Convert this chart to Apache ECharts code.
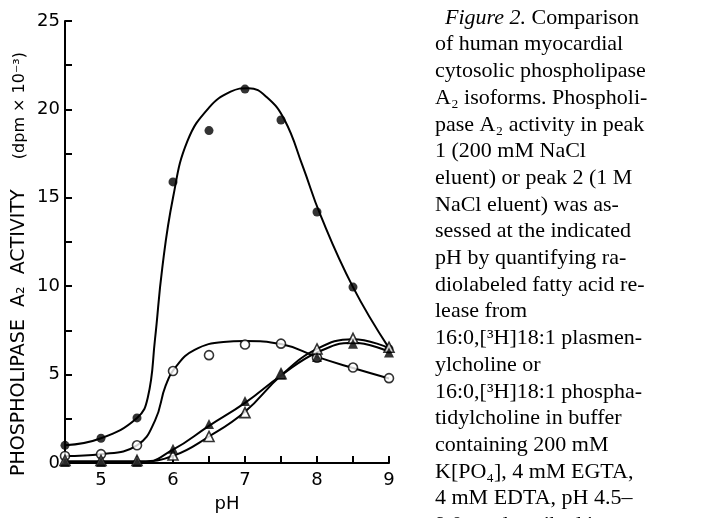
<!DOCTYPE html>
<html>
<head>
<meta charset="utf-8">
<script src="https://cdn.jsdelivr.net/npm/echarts/dist/echarts.min.js"></script>
<style>
html,body{margin:0;padding:0;background:#fff;}
#chart{width:720px;height:518px;}
</style>
</head>
<body>
<div id="chart"></div>
<script>
// ---- data ----
const phValues = [4.5, 5, 5.5, 6, 6.5, 7, 7.5, 8, 8.5, 9];
const filledCircles = [1.0, 1.4, 2.55, 15.9, 18.8, 21.15, 19.4, 14.2, 9.95, 6.45];
const openCircles = [0.4, 0.5, 1.0, 5.2, 6.1, 6.7, 6.75, 5.95, 5.4, 4.8];
const filledTriangles = [0.05, 0.05, 0.05, 0.8, 2.2, 3.5, 5.0, 6.0, 6.75, 6.25];
const openTriangles = [0.15, 0.15, 0.15, 0.45, 1.5, 2.85, 5.05, 6.45, 7.05, 6.55];

// hand-drawn fitted curves as [pH, value]
const curveFilledCircles = [[4.5,1.0],[5.0,1.4],[5.5,2.55],[5.65,3.7],[5.75,7.0],[5.85,11],[6.0,15.0],[6.2,18.2],[6.5,20.1],[6.8,21.0],[7.05,21.2],[7.3,20.7],[7.55,19.4],[7.8,16.8],[8.05,14.0],[8.5,9.95],[9.0,6.5]];
const curveOpenCircles = [[4.5,0.4],[5.0,0.5],[5.5,1.0],[5.75,2.4],[5.9,4.4],[6.05,5.5],[6.3,6.4],[6.7,6.85],[7.0,6.9],[7.5,6.73],[8.0,6.0],[8.5,5.37],[9.0,4.78]];
const curveFilledTriangles = [[4.5,0],[5.0,0],[5.55,0],[6.0,0.75],[6.5,2.1],[7.0,3.4],[7.5,4.95],[8.0,6.25],[8.5,6.8],[9.0,6.3]];
const curveOpenTriangles = [[4.5,0.1],[5.0,0.1],[5.55,0.1],[6.0,0.4],[6.5,1.5],[7.0,2.9],[7.5,4.95],[8.0,6.45],[8.5,7.0],[9.0,6.5]];

const yTicks = [0, 5, 10, 15, 20, 25];
const xTicks = [5, 6, 7, 8, 9];

const captionLines = [
  '{i|Figure 2.} Comparison',
  'of human myocardial',
  'cytosolic phospholipase',
  'A₂ isoforms. Phospholi-',
  'pase A₂ activity in peak',
  '1 (200 mM NaCl',
  'eluent) or peak 2 (1 M',
  'NaCl eluent) was as-',
  'sessed at the indicated',
  'pH by quantifying ra-',
  'diolabeled fatty acid re-',
  'lease from',
  '16:0,[³H]18:1 plasmen-',
  'ylcholine or',
  '16:0,[³H]18:1 phospha-',
  'tidylcholine in buffer',
  'containing 200 mM',
  'K[PO₄], 4 mM EGTA,',
  '4 mM EDTA, pH 4.5–',
  '9.0, as described in'
];

// ---- chart ----
const chart = echarts.init(document.getElementById('chart'), null, {renderer: 'canvas'});
const axisFont = 'DejaVu Sans';
const zip = arr => phValues.map((x, i) => [x, arr[i]]);

const lineStyle = {color: '#000', width: 2};
function curve(name, data) {
  return {
    name: name, type: 'line', data: data, smooth: 0.45,
    showSymbol: false, symbol: 'none', lineStyle: lineStyle, z: 2, silent: true
  };
}
function points(name, data, symbol, size, filled) {
  return {
    name: name, type: 'scatter', data: zip(data), symbol: symbol, symbolSize: size, z: 5,
    itemStyle: {color: filled ? '#000' : '#fff', borderColor: '#000', borderWidth: filled ? 0 : 1.6}
  };
}

const graphics = captionLines.map((t, i) => ({
  type: 'text',
  x: i === 0 ? 445 : 435,
  y: 18 + i * 26.7,
  style: {
    text: t,
    font: '22px "Liberation Serif"',
    fill: '#000',
    textVerticalAlign: 'middle',
    rich: {i: {fontStyle: 'italic', fontFamily: 'Liberation Serif', fontSize: 22}}
  }
}));

chart.setOption({
  animation: false,
  backgroundColor: '#fff',
  grid: {left: 65, top: 21, width: 324, height: 448, containLabel: false},
  xAxis: {
    type: 'value', min: 4.5, max: 9, interval: 0.5,
    name: 'pH', nameLocation: 'middle', nameGap: 32,
    nameTextStyle: {fontFamily: axisFont, fontSize: 18, color: '#000'},
    axisLine: {lineStyle: {color: '#000', width: 2}},
    axisTick: {inside: true, length: 7, lineStyle: {color: '#000', width: 2}},
    axisLabel: {
      fontFamily: axisFont, fontSize: 18, color: '#000', margin: 8,
      formatter: v => (xTicks.indexOf(v) >= 0 ? String(v) : '')
    },
    splitLine: {show: false}
  },
  yAxis: {
    type: 'value', min: 0, max: 25, interval: 2.5,
    name: '{c|PHOSPHOLIPASE  A₂  ACTIVITY}     {d|(dpm × 10⁻³)}',
    nameLocation: 'middle', nameRotate: 90, nameGap: 36,
    nameTextStyle: {
      fontFamily: axisFont, fontSize: 19, color: '#000', padding: [0, 44, 0, 0],
      rich: {
        c: {fontFamily: axisFont, fontSize: 19, color: '#000'},
        d: {fontFamily: axisFont, fontSize: 16, color: '#000'}
      }
    },
    axisLine: {lineStyle: {color: '#000', width: 2}},
    axisTick: {inside: true, length: 7, lineStyle: {color: '#000', width: 2}},
    axisLabel: {
      fontFamily: axisFont, fontSize: 18, color: '#000', margin: 5,
      formatter: v => (yTicks.indexOf(v) >= 0 ? String(v) : '')
    },
    splitLine: {show: false}
  },
  graphic: graphics,
  series: [
    curve('Filled circles curve', curveFilledCircles),
    curve('Open circles curve', curveOpenCircles),
    curve('Filled triangles curve', curveFilledTriangles),
    curve('Open triangles curve', curveOpenTriangles),
    points('Filled circles', filledCircles, 'circle', 9, true),
    points('Open circles', openCircles, 'circle', 9, false),
    points('Open triangles', openTriangles, 'triangle', 10, false),
    points('Filled triangles', filledTriangles, 'triangle', 10, true)
  ]
});
</script>
</body>
</html>
